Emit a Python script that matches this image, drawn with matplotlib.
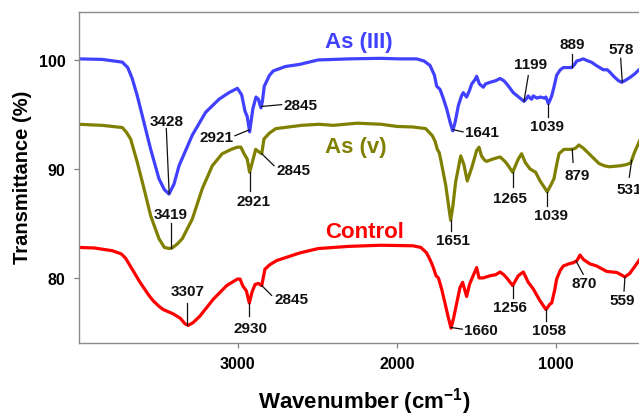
import numpy as np
import matplotlib
matplotlib.use("Agg")
import matplotlib.pyplot as plt

plt.rcParams['font.family'] = ['Liberation Sans', 'DejaVu Sans']
plt.rcParams['mathtext.fontset'] = 'custom'
plt.rcParams['mathtext.rm'] = 'Liberation Sans'
plt.rcParams['mathtext.bf'] = 'Liberation Sans:bold'

# ---------------- data ----------------
as3_wn = [4000, 3850, 3724, 3690, 3662, 3630, 3599, 3546, 3494, 3460, 3431, 3400, 3368, 3285, 3201, 3117, 3055, 3002,
          2975, 2954, 2940, 2925, 2905, 2885, 2870, 2854, 2845, 2833, 2800, 2776, 2700, 2609, 2496, 2300,
          2100, 1990, 1876, 1830, 1793, 1765, 1751, 1730, 1710, 1688, 1665, 1650, 1635, 1615, 1595, 1584,
          1563, 1545, 1531, 1510, 1500, 1490, 1483, 1458, 1445, 1416, 1380, 1353, 1330, 1311, 1270, 1228,
          1203, 1190, 1176, 1165, 1155, 1145, 1120, 1100, 1075, 1065, 1050, 1040, 1029, 1015, 998, 975,
          956, 930, 904, 885, 872, 850, 831, 800, 780, 750, 705, 680, 665, 640, 610, 590, 570, 537, 510,
          481, 450, 400]
as3_t = [100.1, 100.05, 99.8, 99.3, 98.3, 96.7, 94.9, 91.8, 89.1, 88.1, 87.7, 88.6, 90.3, 93.1, 95.2, 96.4, 97.0, 97.4,
         96.8, 95.3, 94.8, 93.4, 95.5, 96.6, 96.4, 95.6, 96.2, 97.6, 98.6, 99.0, 99.4, 99.6, 100.0, 100.1,
         100.15, 100.1, 100.1, 99.9, 99.5, 98.6, 97.6, 97.3, 96.5, 95.5, 94.2, 93.5, 94.3, 95.8, 96.7, 97.0,
         96.6, 97.2, 97.8, 98.2, 98.5, 98.1, 97.8, 97.5, 97.8, 97.95, 98.1, 98.3, 98.1, 97.8, 97.0, 96.5,
         96.2, 96.4, 96.7, 96.5, 96.4, 96.7, 96.5, 96.6, 96.5, 96.6, 96.0, 96.3, 96.7, 97.5, 98.6, 99.1,
         99.3, 99.3, 99.3, 99.6, 99.9, 100.0, 100.1, 99.9, 99.8, 99.5, 99.1, 99.1, 98.9, 98.5, 98.1, 97.95,
         98.1, 98.4, 98.7, 99.1, 99.5, 100.2]

as5_wn = [4000, 3850, 3724, 3700, 3672, 3630, 3588, 3546, 3494, 3460, 3430, 3412, 3380, 3348, 3285, 3222, 3159,
          3097, 3040, 3002, 2980, 2960, 2940, 2925, 2910, 2887, 2870, 2849, 2835, 2800, 2761, 2600, 2490,
          2400, 2250, 2100, 2000, 1900, 1820, 1778, 1760, 1747, 1735, 1726, 1694, 1675, 1663, 1650, 1632,
          1600, 1580, 1559, 1545, 1527, 1500, 1485, 1470, 1450, 1437, 1400, 1353, 1330, 1311, 1274, 1239,
          1218, 1195, 1165, 1130, 1102, 1070, 1057, 1035, 1015, 995, 983, 952, 900, 880, 858, 830, 795,
          760, 732, 700, 669, 630, 596, 560, 533, 510, 481, 450, 400]
as5_t = [94.1, 94.0, 93.8, 93.4, 92.75, 90.6, 88.2, 85.7, 83.6, 82.8, 82.7, 82.75, 83.1, 83.6, 85.4, 88.2, 90.3,
         91.4, 91.8, 92.0, 92.0, 91.4, 90.9, 89.7, 90.5, 91.8, 91.6, 91.4, 92.75, 93.3, 93.7, 94.0, 94.1,
         94.0, 94.2, 94.1, 93.9, 93.85, 93.7, 93.05, 92.5, 91.8, 91.5, 90.9, 88.5, 86.5, 85.3, 86.5, 88.8,
         91.2, 90.4, 88.9, 89.5, 90.3, 91.7, 92.0, 91.2, 90.8, 90.7, 90.9, 91.1, 90.8, 90.5, 89.7, 90.9,
         91.4, 90.6, 90.0, 89.7, 88.9, 88.2, 87.9, 88.5, 89.1, 90.6, 91.4, 91.8, 91.8, 91.9, 92.2, 91.9, 91.4,
         90.9, 90.5, 90.3, 90.2, 90.25, 90.3, 90.4, 90.55, 91.5, 92.45, 93.5, 95.0]

ctrl_wn = [4000, 3900, 3787, 3730, 3703, 3662, 3613, 3557, 3530, 3494, 3467, 3404, 3360, 3331, 3310, 3280,
           3237, 3153, 3069, 3002, 2985, 2969, 2945, 2927, 2910, 2891, 2870, 2849, 2829, 2800, 2755, 2609,
           2494, 2300, 2100, 1900, 1850, 1814, 1790, 1772, 1755, 1740, 1720, 1699, 1680, 1661, 1645, 1625,
           1605, 1588, 1563, 1545, 1531, 1500, 1485, 1460, 1416, 1380, 1353, 1330, 1311, 1274, 1239, 1207,
           1176, 1145, 1102, 1065, 1040, 1029, 1010, 998, 975, 956, 920, 893, 870, 851, 830, 790, 747, 684,
           620, 569, 540, 510, 481, 450, 400]
ctrl_t = [82.8, 82.75, 82.5, 82.2, 81.8, 80.8, 79.6, 78.4, 77.9, 77.4, 77.1, 76.7, 76.3, 75.8, 75.65, 75.9,
          76.5, 78.05, 79.3, 79.9, 79.9, 79.3, 78.8, 77.7, 78.7, 79.4, 79.5, 79.3, 80.8, 81.2, 81.6, 82.3,
          82.7, 82.9, 83.0, 82.95, 82.8, 82.3, 81.6, 80.95, 80.2, 80.0, 79.0, 77.7, 76.5, 75.4, 76.3, 77.7,
          79.1, 79.6, 78.3, 79.4, 79.9, 80.95, 80.0, 80.0, 80.2, 80.3, 80.55, 80.3, 80.0, 79.3, 80.2, 80.55,
          79.6, 79.0, 77.9, 77.1, 77.6, 77.7, 78.9, 79.9, 80.7, 81.1, 81.3, 81.4, 81.6, 82.1, 81.7, 81.3, 81.1, 80.6,
          80.5, 80.1, 80.4, 81.0, 81.6, 82.3, 83.5]

series_names = ['As (III)', 'As (v)', 'Control']

# peak annotations: label, curve wavenumber, line end near text (wn, T), text centre (wn, T)
as3_peaks = ['3428', '2921', '2845', '1641', '1199', '1039', '889', '578']
as3_peak_wn = [3430, 2927, 2852, 1648, 1203, 1050, 900, 586]
as3_line_end = [(3448, 93.7), (3017, 93.05), (2724, 95.9), (1585, 93.4), (1176, 98.56), (1050, 94.74), (900, 100.55), (596, 100.15)]
as3_text = [(3448, 94.4), (3134, 92.9), (2605, 95.9), (1467, 93.4), (1161, 99.65), (1057, 93.95), (902, 101.45), (596, 101.05)]

as5_peaks = ['3419', '2921', '2845', '1651', '1265', '1039', '879', '531']
as5_peak_wn = [3421, 2925, 2849, 1663, 1274, 1057, 900, 527]
as5_line_end = [(3421, 85.07), (2925, 88.0), (2772, 90.3), (1663, 84.3), (1274, 88.3), (1057, 86.6), (895, 90.6), (542, 89.24)]
as5_text = [(3421, 85.9), (2900, 87.1), (2647, 89.94), (1650, 83.5), (1291, 87.37), (1035, 85.78), (872, 89.4), (544, 88.2)]

ctrl_peaks = ['3307', '2930', '2845', '1660', '1256', '1058', '870', '559']
ctrl_peak_wn = [3316, 2927, 2849, 1660, 1274, 1062, 876, 569]
ctrl_line_end = [(3316, 77.73), (2927, 76.5), (2787, 78.4), (1590, 75.3), (1274, 78.2), (1062, 76.05), (831, 80.34), (575, 78.8)]
ctrl_text = [(3316, 78.8), (2918, 75.38), (2665, 78.05), (1475, 75.25), (1291, 77.37), (1046, 75.2), (828, 79.5), (586, 77.98)]

# ---------------- figure ----------------
W, H, DPI = 639, 414, 100
fig = plt.figure(figsize=(W / DPI, H / DPI), dpi=DPI)
ax = fig.add_axes([79 / W, 70.3 / H, (651.9 - 79) / W, (343.7 - 13) / H])

colors = ['#4040FF', '#808000', '#FF0000']
datasets = [(as3_wn, as3_t), (as5_wn, as5_t), (ctrl_wn, ctrl_t)]
for (wn, t), c in zip(datasets, colors):
    ax.plot(wn, t, color=c, lw=2.3, solid_joinstyle='round', solid_capstyle='round')

ax.set_xlim(3996, 400)
ax.set_ylim(74.06, 104.4)
ax.set_xticks([3000, 2000, 1000])
ax.set_yticks([80, 90, 100])
ax.tick_params(direction='out', length=3.8, width=0.9, color='#808080', pad=6,
               labelsize=11.5)
for lab in ax.get_xticklabels() + ax.get_yticklabels():
    lab.set_fontweight('bold')
for s in ax.spines.values():
    s.set_color('#8c8c8c')
    s.set_linewidth(1.0)

# series labels
label_y = [101.65, 92.06, 84.3]
for name, c, y in zip(series_names, colors, label_y):
    ax.text(2452, y, name, color=c, fontsize=16, fontweight='bold', ha='left', va='center')

# peak annotations
ann_sets = [(as3_wn, as3_t, as3_peaks, as3_peak_wn, as3_line_end, as3_text),
            (as5_wn, as5_t, as5_peaks, as5_peak_wn, as5_line_end, as5_text),
            (ctrl_wn, ctrl_t, ctrl_peaks, ctrl_peak_wn, ctrl_line_end, ctrl_text)]
for wn, t, labels, pk, ends, texts in ann_sets:
    wn_a = np.array(wn)[::-1]
    t_a = np.array(t)[::-1]
    for lab, p, e, tx in zip(labels, pk, ends, texts):
        yc = np.interp(p, wn_a, t_a)
        ax.plot([p, e[0]], [yc, e[1]], color='#111111', lw=0.9)
        ax.text(tx[0], tx[1], lab, fontsize=11, fontweight='bold', color='#111111',
                ha='center', va='center')

fig.text(364 / W, (414 - 402) / H, r'Wavenumber (cm$^{\mathbf{-1}}$)', fontsize=16,
         fontweight='bold', ha='center', va='center')
fig.text(22.7 / W, (414 - 177.5) / H, 'Transmittance (%)', fontsize=14.5,
         fontweight='bold', ha='center', va='center', rotation=90)

fig.savefig('out.png', dpi=DPI)
